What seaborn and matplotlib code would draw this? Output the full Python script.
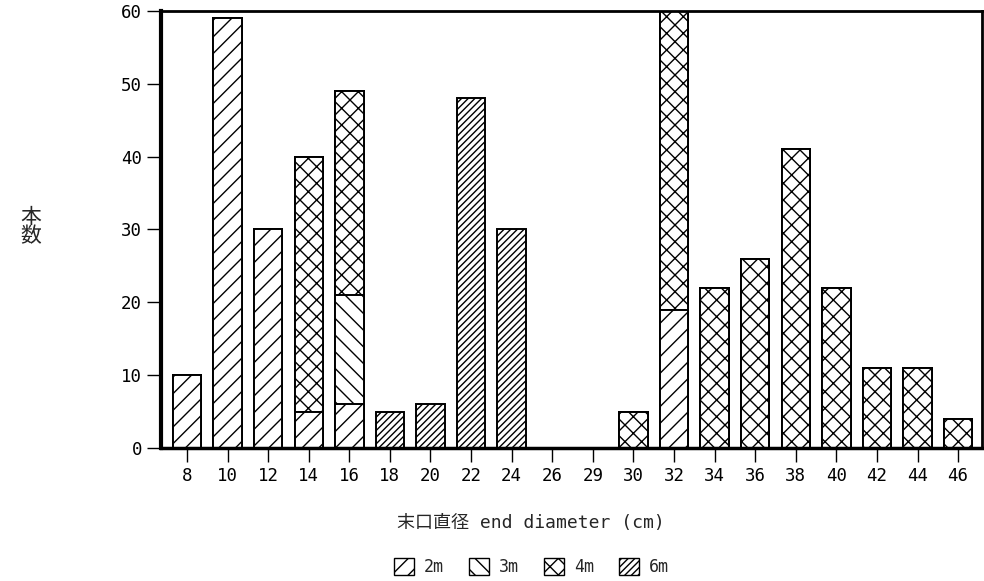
import matplotlib
matplotlib.use("Agg")
import matplotlib.pyplot as plt
import matplotlib.patches as mpatches
import numpy as np
import seaborn as sns

# diameter classes (cm) and counts per log length
diameters = ["8", "10", "12", "14", "16", "18", "20", "22", "24", "26",
             "29", "30", "32", "34", "36", "38", "40", "42", "44", "46"]
len_2m = [10, 59, 30, 5, 6, 0, 0, 0, 0, 0, 0, 0, 19, 0, 0, 0, 0, 0, 0, 0]
len_3m = [0, 0, 0, 0, 15, 0, 0, 0, 0, 0, 0, 0, 0, 0, 0, 0, 0, 0, 0, 0]
len_4m = [0, 0, 0, 35, 28, 0, 0, 0, 0, 0, 0, 5, 41, 22, 26, 41, 22, 11, 11, 4]
len_6m = [0, 0, 0, 0, 0, 5, 6, 48, 30, 0, 0, 0, 0, 0, 0, 0, 0, 0, 0, 0]
legend_labels = ["2m", "3m", "4m", "6m"]

sns.set_style("ticks")
plt.rcParams['font.family'] = ['DejaVu Sans Mono', 'Noto Sans CJK JP']
plt.rcParams['hatch.linewidth'] = 1.0

fig = plt.figure(figsize=(9.84, 5.81), dpi=100)
ax = fig.add_axes([0.1636, 0.229, 0.8344, 0.752])

# stack by overlaying cumulative totals, top layer first
layers = [len_2m, len_3m, len_4m, len_6m]
hatches = ["//", "\\\\", "xx", "/////"]
cum = np.cumsum(np.array(layers), axis=0)
for i in range(3, -1, -1):
    sns.barplot(x=diameters, y=cum[i], order=diameters, color="white",
                saturation=1, edgecolor="black", linewidth=1.4,
                hatch=hatches[i], width=0.7, errorbar=None, ax=ax)

ax.set_ylim(0, 60)
ax.set_xlim(-0.64, 19.59)
ax.set_yticks([0, 10, 20, 30, 40, 50, 60])
ax.tick_params(axis="both", direction="out", length=10, width=1, labelsize=12.5,
               colors="black")
ax.set_xlabel("")
ax.set_ylabel("")
for side, lw in [("left", 3), ("bottom", 2.5), ("right", 2), ("top", 2)]:
    ax.spines[side].set_visible(True)
    ax.spines[side].set_linewidth(lw)
    ax.spines[side].set_color("black")

fig.text(0.031, 0.61, "本\n数", fontsize=15, ha="center", va="center",
         linespacing=0.9)
fig.text(0.54, 0.1, "末口直径 end diameter (cm)", fontsize=13,
         ha="center", va="center")

handles = [mpatches.Patch(facecolor="white", edgecolor="black", hatch=h,
                          label=l) for h, l in zip(hatches, legend_labels)]
fig.legend(handles=handles, loc="center", bbox_to_anchor=(0.54, 0.024),
           ncol=4, frameon=False, fontsize=12, handlelength=1.2,
           handleheight=1.2, columnspacing=1.5, handletextpad=0.6)

fig.savefig("out.png", dpi=100)
